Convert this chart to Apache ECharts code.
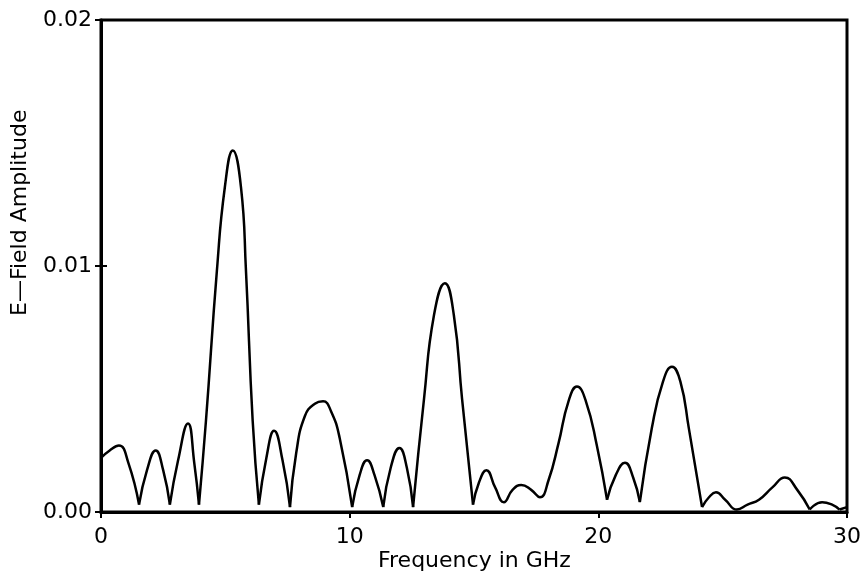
<!DOCTYPE html>
<html>
<head>
<meta charset="utf-8">
<script src="https://cdn.jsdelivr.net/npm/echarts@6/dist/echarts.min.js"></script>
<style>
  html, body { margin: 0; padding: 0; background: #fff; }
  #chart { width: 865px; height: 581px; }
</style>
</head>
<body>
<div id="chart"></div>
<script>
// Spectrum of the E-field: frequency (GHz) and amplitude samples
const freqGHz = [
  0.0, 0.35, 0.72, 1.1, 1.53, 1.85, 2.2, 2.5, 2.77, 3.1, 3.5, 3.75, 3.94,
  4.22, 4.66, 4.98, 5.3, 5.63, 5.83, 6.1, 6.35,
  6.65, 6.96, 7.3, 7.6, 7.85, 8.2, 8.6, 8.93, 9.25, 9.6, 10.1,
  10.4, 10.7, 11.0, 11.35, 11.65, 12.0, 12.3, 12.55,
  12.99, 13.39, 13.83, 14.19, 14.52, 14.96,
  15.2, 15.5, 15.85, 16.2, 16.55, 16.9, 17.3, 17.65,
  18.0, 18.4, 18.8, 19.14, 19.5, 19.94, 20.35,
  20.7, 21.07, 21.4, 21.67,
  22.15, 22.6, 22.96, 23.3, 23.64, 24.17,
  24.45, 24.73, 25.1, 25.57, 26.0, 26.46, 27.0, 27.5, 28.0, 28.5,
  29.0, 29.4, 29.7, 30.0
];
const amplitude = [
  0.0022, 0.0025, 0.0027, 0.0020, 0.0003, 0.0017, 0.0025, 0.0017, 0.0003, 0.0021, 0.0036, 0.0020, 0.0003,
  0.0037, 0.0098, 0.0132, 0.0147, 0.0132, 0.0098, 0.0037, 0.0003,
  0.0022, 0.0033, 0.0021, 0.0002, 0.0024, 0.0039, 0.0044, 0.0045, 0.0041, 0.0030, 0.0002,
  0.0015, 0.0021, 0.0015, 0.0002, 0.0018, 0.0026, 0.0018, 0.0002,
  0.0046, 0.0080, 0.0093, 0.0080, 0.0046, 0.0003,
  0.0012, 0.0017, 0.0010, 0.0004, 0.0009, 0.0011, 0.0009, 0.0006,
  0.0013, 0.0028, 0.0045, 0.0051, 0.0045, 0.0027, 0.0005,
  0.0015, 0.0020, 0.0014, 0.0004,
  0.0034, 0.0053, 0.0059, 0.0053, 0.0034, 0.0002,
  0.0006, 0.0008, 0.0005, 0.0001, 0.0003, 0.0005, 0.0010, 0.0014, 0.0009, 0.0001,
  0.0004, 0.0003, 0.0001, 0.0002
];
// Sharp nulls of the spectrum; each lobe between two nulls is smoothed on its own
const nullFreqs = [1.53, 2.77, 3.94, 6.35, 7.6, 10.1, 11.35, 12.55, 14.96, 20.35, 21.67, 24.17, 28.5, 29.7];
const xTicks = [0, 10, 20, 30];
const yTicks = [0.00, 0.01, 0.02];
const xTitle = 'Frequency in GHz';
const yTitle = 'E\u2014Field Amplitude';

const points = freqGHz.map((f, i) => [f, amplitude[i]]);
const lobes = [];
let current = [];
points.forEach(p => {
  current.push(p);
  if (nullFreqs.includes(p[0])) {
    lobes.push(current);
    current = [p];
  }
});
if (current.length > 1) lobes.push(current);

const font = '"DejaVu Sans", "Noto Sans", sans-serif';

const chart = echarts.init(document.getElementById('chart'));
chart.setOption({
  backgroundColor: '#ffffff',
  animation: false,
  grid: {
    left: 101, right: 18, top: 20, bottom: 69,
    show: true, borderColor: '#000', borderWidth: 3, backgroundColor: 'transparent'
  },
  graphic: [{
    type: 'text', left: 378, top: 550,
    style: { text: xTitle, fontFamily: font, fontSize: 22, fill: '#000' }
  }, {
    type: 'text', x: 9, y: 316, rotation: Math.PI / 2,
    style: { text: yTitle, fontFamily: font, fontSize: 22, fill: '#000' }
  }],
  xAxis: [{
    type: 'value',
    min: xTicks[0], max: xTicks[xTicks.length - 1], interval: 10,
    axisLine: { show: true, lineStyle: { color: '#000', width: 3 } },
    axisTick: { show: false },
    axisLabel: { fontFamily: font, fontSize: 22, color: '#000', margin: 14 },
    splitLine: { show: false }
  }, {
    type: 'value', position: 'top',
    min: xTicks[0], max: xTicks[xTicks.length - 1], interval: 10,
    axisLine: { show: false },
    axisTick: { show: true, inside: true, length: 6, lineStyle: { color: '#000', width: 2 } },
    axisLabel: { show: false },
    splitLine: { show: false }
  }],
  yAxis: [{
    type: 'value',
    min: yTicks[0], max: yTicks[yTicks.length - 1], interval: 0.01,
    axisLine: { show: true, lineStyle: { color: '#000', width: 3 } },
    axisTick: { show: true, inside: true, length: 6, lineStyle: { color: '#000', width: 2 } },
    axisLabel: { fontFamily: font, fontSize: 22, color: '#000', margin: 9,
                 formatter: v => v.toFixed(2) },
    splitLine: { show: false }
  }, {
    type: 'value', position: 'right',
    min: yTicks[0], max: yTicks[yTicks.length - 1], interval: 0.01,
    axisLine: { show: false },
    axisTick: { show: true, inside: true, length: 6, lineStyle: { color: '#000', width: 2 } },
    axisLabel: { show: false },
    splitLine: { show: false }
  }],
  series: lobes.map(seg => ({
    type: 'line',
    data: seg,
    smooth: 0.5,
    showSymbol: false,
    lineStyle: { color: '#000', width: 2.5 }
  }))
});
</script>
</body>
</html>
